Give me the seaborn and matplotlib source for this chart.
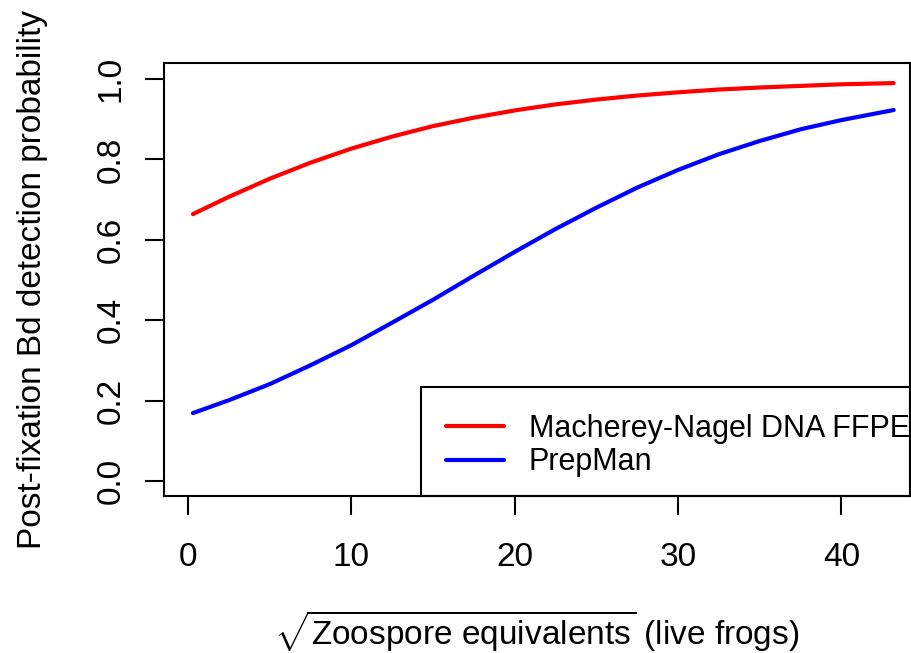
import matplotlib
matplotlib.use("Agg")
import matplotlib.pyplot as plt
from matplotlib.patches import Rectangle
import seaborn as sns
import pandas as pd

# Square-root zoospore equivalents at which the fitted curves are evaluated
sqrt_ze = [0.3, 2.5, 5, 7.5, 10, 12.5, 15, 17.5, 20, 22.5, 25, 27.5, 30,
           32.5, 35, 37.5, 40, 43.2]

# Fitted post-fixation detection probabilities
p_macherey = [0.664, 0.707, 0.752, 0.792, 0.827, 0.857, 0.883, 0.904, 0.922,
              0.937, 0.949, 0.959, 0.967, 0.974, 0.979, 0.983, 0.987, 0.990]
p_prepman = [0.169, 0.201, 0.241, 0.288, 0.338, 0.394, 0.451, 0.511, 0.570,
             0.627, 0.680, 0.730, 0.774, 0.813, 0.846, 0.875, 0.898, 0.923]

methods = ["Macherey-Nagel DNA FFPE", "PrepMan"]
colors = {"Macherey-Nagel DNA FFPE": "#ff0000", "PrepMan": "#0000ff"}

x_ticks = [0, 10, 20, 30, 40]
y_ticks = [0.0, 0.2, 0.4, 0.6, 0.8, 1.0]

df = pd.DataFrame({
    "x": sqrt_ze * 2,
    "p": p_macherey + p_prepman,
    "method": [methods[0]] * len(sqrt_ze) + [methods[1]] * len(sqrt_ze),
})

sns.set_theme(style="white")
plt.rcParams["font.family"] = ["Liberation Sans", "DejaVu Sans"]
plt.rcParams["mathtext.fontset"] = "custom"
plt.rcParams["mathtext.rm"] = "Liberation Sans"
plt.rcParams["mathtext.it"] = "Liberation Sans:italic"
plt.rcParams["text.color"] = "black"

fig = plt.figure(figsize=(9.11, 6.53), dpi=100)
ax = fig.add_axes([164 / 911, 157 / 653, 746 / 911, 433 / 653])

sns.lineplot(data=df, x="x", y="p", hue="method", hue_order=methods,
             palette=colors, linewidth=3, ax=ax, sort=False,
             solid_capstyle="round")

ax.set_xlim(-1.47, 44.2)
ax.set_ylim(-0.0373, 1.04)
ax.set_xticks(x_ticks)
ax.set_yticks(y_ticks)
ax.set_xticklabels([str(t) for t in x_ticks])
ax.set_yticklabels([f"{t:.1f}" for t in y_ticks], rotation=90, va="center")

for s in ax.spines.values():
    s.set_color("black")
    s.set_linewidth(1.5)
    s.set_zorder(5)

ax.tick_params(axis="both", which="major", direction="out", length=14,
               width=1.5, color="black", labelsize=24, labelcolor="black",
               bottom=True, left=True)
ax.tick_params(axis="x", pad=19)
ax.tick_params(axis="y", pad=13)

ax.set_xlabel(r"$\sqrt{\mathrm{Zoospore\ equivalents}}$ (live frogs)",
              fontsize=24, labelpad=26, color="black")
ax.set_ylabel("Post-fixation Bd detection probability", fontsize=24,
              labelpad=34, color="black")

# Legend frame anchored to the lower-right corner of the plot box
ax.add_patch(Rectangle((0.3445, 0.0), 0.6555, 0.2517, transform=ax.transAxes,
                       facecolor="white", edgecolor="black", linewidth=1.5,
                       zorder=4, clip_on=False))

leg = ax.legend(loc="upper left", bbox_to_anchor=(0.3785, 0.19),
                borderaxespad=0, borderpad=0, fontsize=22, frameon=False,
                handlelength=1.9, handletextpad=0.8, labelspacing=0.12,
                title=None)
leg.set_zorder(6)
for text in leg.get_texts():
    text.set_color("black")
for line in leg.get_lines():
    line.set_linewidth(3)
    line.set_solid_capstyle("round")

fig.savefig("out.png", dpi=100)
